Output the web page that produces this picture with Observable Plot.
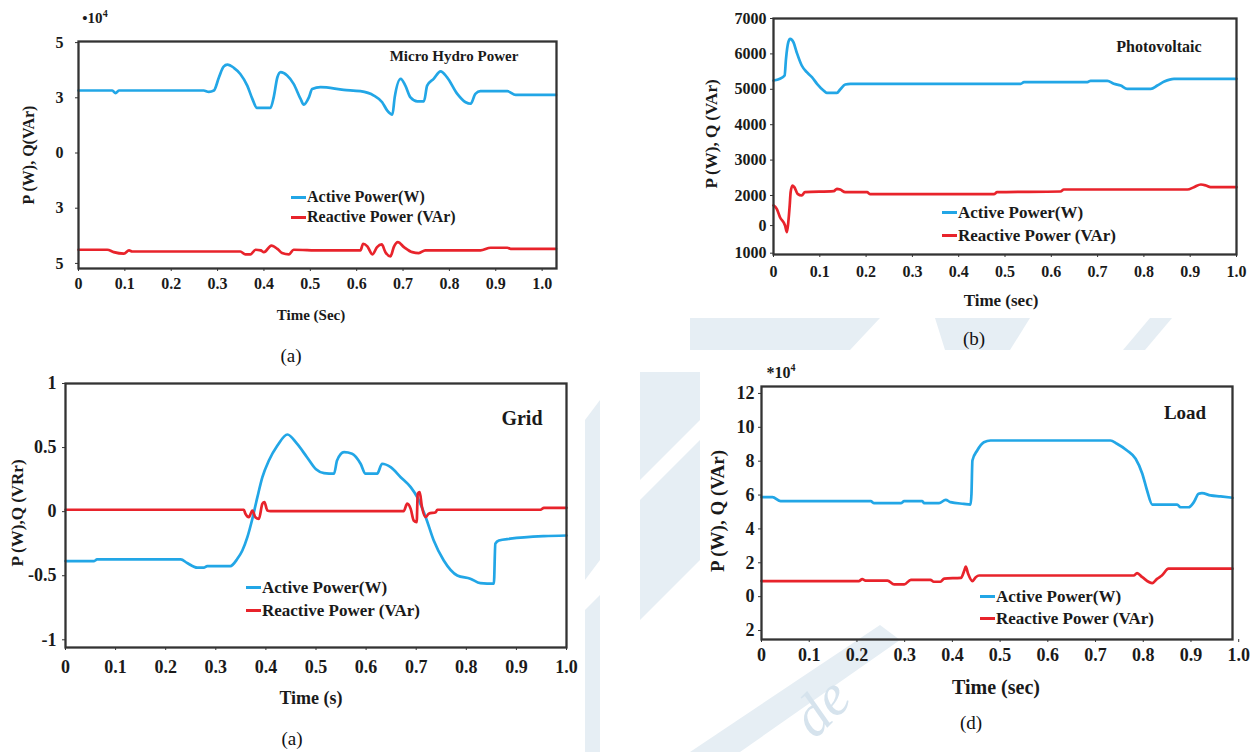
<!DOCTYPE html>
<html>
<head>
<meta charset="utf-8">
<script src="https://cdn.jsdelivr.net/npm/d3@7"></script>
<script src="https://cdn.jsdelivr.net/npm/@observablehq/plot@0.6"></script>
<style>
  html, body { margin: 0; padding: 0; background: #fff; }
  #fig { position: relative; width: 1255px; height: 752px; overflow: hidden; background: #fff; }
  #wm { position: absolute; left: 0; top: 0; }
  .t { position: absolute; font-family: "Liberation Serif", "Times New Roman", serif; font-weight: bold; color: #1a1a1a; white-space: nowrap; transform: translate(-50%, -50%); line-height: 1; }
  .l { transform: translate(0, -50%); }
  .r { transform: translate(-50%, -50%) rotate(-90deg); }
  .cap { font-weight: normal; font-size: 19px; color: #111; }
  .dash { position: absolute; height: 3px; width: 15px; }
  .panel { position: absolute; }
</style>
</head>
<body>
<div id="fig">
  <svg id="wm" width="1255" height="752">
    <g fill="#e6eef4">
      <polygon points="690,318 880,318 850,350 690,350"/>
      <polygon points="935,318 1030,318 1010,350 945,350"/>
      <polygon points="1150,318 1172,318 1145,350 1123,350"/>
      <polygon points="640,372 700,372 700,420 640,480"/>
      <polygon points="640,500 700,440 700,560 640,620"/>
      <polygon points="585,420 600,400 600,560 585,580"/>
      <polygon points="585,610 600,595 600,752 585,752"/>
      <polygon points="690,752 740,752 900,640 880,625"/>
    </g>
    <text x="815" y="740" font-family="Liberation Serif, serif" font-style="italic" font-size="58" fill="#d6e3ed" transform="rotate(-45 815 740)">de</text>
  </svg>
</div>
<script>
// ---------- data ----------
const blue = "#22a6e6";
const red = "#e8232b";

// Micro Hydro Power (×10^4, axis as printed)
const hydroActive = [[0,2.83],[0.073,2.83],[0.080,2.71],[0.087,2.83],[0.270,2.83],[0.281,2.77],[0.292,2.83],[0.303,3.43],[0.313,3.91],[0.321,4.00],[0.335,3.86],[0.349,3.58],[0.364,3.05],[0.375,2.45],[0.385,2.04],[0.414,2.04],[0.421,2.52],[0.429,3.43],[0.436,3.66],[0.450,3.51],[0.464,3.13],[0.479,2.45],[0.486,2.19],[0.497,2.52],[0.504,2.90],[0.522,2.98],[0.572,2.86],[0.608,2.80],[0.637,2.60],[0.655,2.30],[0.666,1.92],[0.677,1.74],[0.682,2.52],[0.695,3.36],[0.705,3.05],[0.716,2.52],[0.731,2.34],[0.745,2.34],[0.752,3.05],[0.766,3.36],[0.781,3.70],[0.795,3.43],[0.817,2.68],[0.835,2.30],[0.846,2.23],[0.856,2.68],[0.867,2.80],[0.925,2.80],[0.943,2.63],[1.03,2.63]];
const hydroReactive = [[0,-4.38],[0.062,-4.38],[0.076,-4.49],[0.098,-4.56],[0.109,-4.41],[0.116,-4.46],[0.349,-4.46],[0.360,-4.59],[0.371,-4.59],[0.382,-4.38],[0.393,-4.41],[0.400,-4.49],[0.416,-4.19],[0.429,-4.34],[0.439,-4.53],[0.454,-4.59],[0.464,-4.38],[0.522,-4.41],[0.608,-4.41],[0.614,-4.11],[0.623,-4.23],[0.634,-4.59],[0.644,-4.26],[0.654,-4.14],[0.662,-4.49],[0.673,-4.68],[0.680,-4.26],[0.689,-4.04],[0.702,-4.26],[0.720,-4.49],[0.734,-4.53],[0.748,-4.41],[0.867,-4.41],[0.889,-4.29],[0.925,-4.29],[0.932,-4.34],[1.03,-4.34]];
const hydroYTicks = [5, 2.5, 0, -2.5, -5];
const hydroYLabels = ["5", "3", "0", "3", "5"];

// Photovoltaic (W / VAr)
const pvActive = [[0,5249],[0.014,5297],[0.024,5390],[0.027,5862],[0.032,6331],[0.036,6426],[0.043,6331],[0.050,6048],[0.061,5672],[0.072,5483],[0.083,5342],[0.094,5155],[0.108,4966],[0.115,4900],[0.137,4900],[0.144,4994],[0.155,5136],[0.166,5155],[0.534,5155],[0.541,5202],[0.678,5202],[0.685,5240],[0.721,5240],[0.735,5155],[0.750,5107],[0.764,5014],[0.815,5014],[0.829,5107],[0.844,5220],[0.865,5297],[1.0,5297]];
const pvReactive = [[0,1718],[0.007,1624],[0.014,1387],[0.025,1153],[0.029,964],[0.032,1246],[0.035,1718],[0.037,2093],[0.041,2282],[0.045,2235],[0.052,2047],[0.061,2000],[0.068,2093],[0.130,2122],[0.137,2188],[0.144,2169],[0.155,2093],[0.202,2093],[0.209,2037],[0.476,2037],[0.483,2093],[0.620,2113],[0.627,2169],[0.894,2169],[0.908,2235],[0.923,2310],[0.934,2282],[0.944,2235],[1.0,2235]];
const pvYTicks = [7000, 6000, 5000, 4000, 3000, 2000, 1150, 370];
const pvYLabels = ["7000", "6000", "5000", "4000", "3000", "2000", "0", "1000"];

// Grid
const gridActive = [[0,-0.386],[0.057,-0.386],[0.063,-0.373],[0.230,-0.373],[0.243,-0.401],[0.263,-0.437],[0.276,-0.437],[0.283,-0.425],[0.329,-0.425],[0.343,-0.368],[0.353,-0.303],[0.363,-0.199],[0.373,-0.055],[0.383,0.113],[0.393,0.269],[0.406,0.399],[0.423,0.516],[0.443,0.602],[0.462,0.530],[0.482,0.425],[0.500,0.33],[0.516,0.30],[0.536,0.296],[0.542,0.399],[0.556,0.464],[0.572,0.452],[0.589,0.374],[0.599,0.296],[0.622,0.296],[0.632,0.374],[0.649,0.347],[0.669,0.269],[0.689,0.191],[0.702,0.113],[0.719,-0.043],[0.735,-0.225],[0.755,-0.381],[0.782,-0.498],[0.808,-0.523],[0.828,-0.558],[0.855,-0.562],[0.858,-0.250],[0.865,-0.225],[0.888,-0.211],[0.955,-0.191],[1.0,-0.186]];
const gridReactive = [[0,0.015],[0.356,0.015],[0.359,-0.016],[0.366,-0.043],[0.373,0.009],[0.379,-0.043],[0.386,-0.056],[0.393,0.062],[0.397,0.074],[0.403,0.009],[0.409,0.004],[0.675,0.004],[0.682,0.062],[0.689,0.022],[0.695,-0.069],[0.701,-0.082],[0.703,0.140],[0.707,0.152],[0.711,0.048],[0.719,-0.043],[0.725,-0.016],[0.739,-0.004],[0.742,0.015],[0.948,0.015],[0.955,0.030],[1.0,0.030]];
const gridYTicks = [1, 0.5, 0, -0.5, -1];
const gridYLabels = ["1", "0.5", "0", "-0.5", "-1"];

// Load (×10^4)
const loadActive = [[0,5.88],[0.023,5.88],[0.040,5.64],[0.229,5.64],[0.236,5.52],[0.292,5.52],[0.299,5.64],[0.337,5.64],[0.341,5.52],[0.372,5.52],[0.386,5.72],[0.396,5.58],[0.424,5.48],[0.438,5.44],[0.440,6.07],[0.442,8.04],[0.452,8.63],[0.466,9.12],[0.480,9.22],[0.731,9.22],[0.745,9.03],[0.766,8.63],[0.784,8.14],[0.798,7.26],[0.808,6.27],[0.819,5.44],[0.871,5.44],[0.878,5.28],[0.895,5.28],[0.906,5.58],[0.916,6.07],[0.923,6.11],[0.941,5.98],[0.962,5.92],[0.987,5.84]];
const loadReactive = [[0,0.92],[0.204,0.92],[0.211,1.03],[0.218,0.95],[0.264,0.95],[0.278,0.72],[0.299,0.72],[0.313,0.99],[0.354,0.99],[0.361,0.88],[0.375,0.88],[0.383,1.07],[0.418,1.11],[0.425,1.55],[0.428,1.78],[0.433,1.35],[0.442,0.92],[0.449,1.15],[0.456,1.25],[0.780,1.25],[0.787,1.39],[0.798,1.15],[0.819,0.80],[0.829,1.05],[0.839,1.25],[0.853,1.65],[0.987,1.65]];
const loadYTicks = [12, 10, 8, 6, 4, 2, 0, -2];
const loadYLabels = ["12", "10", "8", "6", "4", "2", "0", "2"];

const timeTicks = [0, 0.1, 0.2, 0.3, 0.4, 0.5, 0.6, 0.7, 0.8, 0.9, 1.0];
const timeLabels = ["0", "0.1", "0.2", "0.3", "0.4", "0.5", "0.6", "0.7", "0.8", "0.9", "1.0"];

// ---------- drawing ----------
const fig = document.getElementById("fig");
const FONT = '"Liberation Serif", "Times New Roman", serif';

function panel(o) {
  const toRows = a => a.map(([t, v]) => ({t, v}));
  const svg = Plot.plot({
    width: o.width, height: o.height,
    marginLeft: o.ml, marginRight: o.mr, marginTop: o.mt, marginBottom: o.mb,
    style: {background: "transparent", overflow: "visible"},
    x: {domain: o.xDomain},
    y: {domain: o.yDomain},
    marks: [
      Plot.axisX(timeTicks.filter(d => d <= o.xDomain[1] + 0.02), {
        tickSize: 3, tickPadding: o.xPad, fontSize: o.fs, fontWeight: "bold", fontFamily: FONT,
        tickFormat: d => timeLabels[timeTicks.indexOf(d)], label: null, stroke: "#333"
      }),
      Plot.axisY(o.yTicks, {
        tickSize: 3, tickPadding: o.yPad, fontSize: o.fs, fontWeight: "bold", fontFamily: FONT,
        tickFormat: d => o.yLabels[o.yTicks.indexOf(d)], label: null, stroke: "#333"
      }),
      Plot.line(toRows(o.active), {x: "t", y: "v", stroke: blue, strokeWidth: 2.7, curve: "monotone-x"}),
      Plot.line(toRows(o.reactive), {x: "t", y: "v", stroke: red, strokeWidth: 2.7, curve: "monotone-x"}),
      Plot.frame({stroke: "#333", strokeWidth: 2.3})
    ]
  });
  svg.classList.add("panel");
  svg.style.left = o.left + "px";
  svg.style.top = o.top + "px";
  svg.style.maxWidth = "none";
  svg.querySelectorAll("text").forEach(el => {
    el.style.fontFamily = FONT;
    el.style.fontWeight = "bold";
    el.style.fontSize = o.fs + "px";
    el.style.fill = "#1a1a1a";
  });
  fig.appendChild(svg);
}

function text(str, x, y, size, cls = "", color) {
  const d = document.createElement("div");
  d.className = "t " + cls;
  d.style.left = x + "px";
  d.style.top = y + "px";
  d.style.fontSize = size + "px";
  if (color) d.style.color = color;
  d.innerHTML = str;
  fig.appendChild(d);
}
function legend(x, yA, yR, size) {
  for (const [y, c, s] of [[yA, blue, "Active Power(W)"], [yR, red, "Reactive Power (VAr)"]]) {
    const d = document.createElement("div");
    d.className = "dash";
    d.style.left = x + "px";
    d.style.top = (y - 1.5) + "px";
    d.style.background = c;
    fig.appendChild(d);
    text(s, x + 16, y, size, "l");
  }
}

// (a) Micro Hydro Power
panel({left: 0, top: 0, width: 580, height: 300, ml: 78, mr: 24, mt: 41, mb: 32,
  xDomain: [0, 1.031], yDomain: [-5.23, 5.05], yTicks: hydroYTicks, yLabels: hydroYLabels,
  active: hydroActive, reactive: hydroReactive, fs: 16, xPad: 6, yPad: 12});
text("•10<sup style='font-size:10px'>4</sup>", 95, 17, 15);
text("Micro Hydro Power", 454, 56, 15);
legend(291, 197, 217, 16);
text("P (W), Q(VAr)", 29, 155, 16, "r");
text("Time (Sec)", 311, 315, 15);
text("(a)", 291, 355, 19, "cap");

// (b) Photovoltaic
panel({left: 640, top: 0, width: 615, height: 290, ml: 133, mr: 19, mt: 18, mb: 36,
  xDomain: [0, 1.0], yDomain: [333, 7000], yTicks: pvYTicks, yLabels: pvYLabels,
  active: pvActive, reactive: pvReactive, fs: 16, xPad: 8, yPad: 4});
text("Photovoltaic", 1159, 47, 16);
legend(942, 212, 235, 17);
text("P (W), Q (VAr)", 711, 134, 17, "r");
text("Time (sec)", 1001, 300, 17);
text("(b)", 974, 338, 19, "cap");

// (c) Grid
panel({left: 0, top: 360, width: 600, height: 392, ml: 65, mr: 34, mt: 23, mb: 105,
  xDomain: [0, 1.0], yDomain: [-1.06, 1.0], yTicks: gridYTicks, yLabels: gridYLabels,
  active: gridActive, reactive: gridReactive, fs: 18, xPad: 10, yPad: 6});
text("Grid", 522, 418, 20);
legend(246, 587, 610, 17);
text("P (W),Q (VRr)", 17, 513, 17, "r");
text("Time (s)", 311, 698, 18);
text("(a)", 292, 738, 19, "cap");

// (d) Load
panel({left: 640, top: 360, width: 615, height: 392, ml: 121, mr: 23, mt: 26, mb: 113,
  xDomain: [0, 0.987], yDomain: [-2.53, 12.41], yTicks: loadYTicks, yLabels: loadYLabels,
  active: loadActive, reactive: loadReactive, fs: 18, xPad: 6, yPad: 4});
text("*10<sup style='font-size:10px'>4</sup>", 781, 372, 16);
text("Load", 1185, 412, 19);
legend(980, 596, 618, 17);
text("P (W), Q (VAr)", 717, 511, 19, "r");
text("Time (sec)", 996, 687, 20);
text("(d)", 971, 722, 19, "cap");
</script>
</body>
</html>
